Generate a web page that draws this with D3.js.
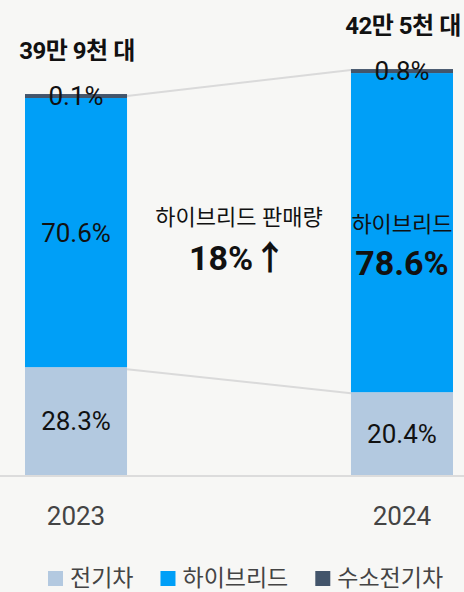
<!DOCTYPE html>
<html>
<head>
<meta charset="utf-8">
<script src="https://cdn.jsdelivr.net/npm/d3@7"></script>
<style>
  html, body { margin: 0; padding: 0; background: #f7f7f5; }
  svg { display: block; font-family: Roboto, 'Noto Sans CJK KR', sans-serif; }
</style>
</head>
<body>
<svg id="chart" width="464" height="592"></svg>
<script>
// 연도
const years = ['2023', '2024'];
// 판매 대수 (천 대)
const totals = [399, 425];
// 상단 판매 대수 라벨
const totalLabels = ['39만 9천 대', '42만 5천 대'];
// 시리즈 이름
const seriesNames = ['전기차', '하이브리드', '수소전기차'];
// 비중 (%)
const evShare = [28.3, 20.4];
const hybridShare = [70.6, 78.6];
const fcevShare = [0.1, 0.8];
// 가운데 설명 문구
const noteLines = ['하이브리드 판매량', '18%↑'];

const colors = ['#b3c9e0', '#009ff7', '#43556b'];
const W = 464, H = 592;
const svg = d3.select('#chart');

// 축 스케일
const x = d3.scaleBand().domain(years).range([25, 453]).paddingInner(0.687);
const y = d3.scaleLinear().domain([0, 425]).range([475, 69]);
// 퍼센트 -> 천 대 값으로 변환
const shares = [evShare, hybridShare, fcevShare];
const rows = years.map((yr, i) => {
    const r = { year: yr };
    seriesNames.forEach((s, k) => r[s] = totals[i] * shares[k][i] / 100);
    return r;
});
const stacked = d3.stack().keys(seriesNames)(rows);

// 작은 값은 최소 높이 보장
const minH = 4;
stacked.forEach((layer, k) => layer.forEach((d, i) => {
    let top = y(d[1]);
    const bottom = k === 0 ? y(0) : stacked[k - 1][i].topPx;
    if (bottom - top < minH) top = bottom - minH;
    d.topPx = top;
    d.bottomPx = bottom;
}));

// 바닥 라인
svg.append('line')
    .attr('x1', 0).attr('x2', W)
    .attr('y1', y(0) + 1).attr('y2', y(0) + 1)
    .attr('stroke', '#dcdcdc').attr('stroke-width', 2);

// 연결선 (전체 상단, 전기차 상단)
const connect = [stacked[2], stacked[0]];
connect.forEach(layer => {
    svg.append('line')
        .attr('x1', x(years[0]) + x.bandwidth()).attr('y1', layer[0].topPx + 2)
        .attr('x2', x(years[1])).attr('y2', layer[1].topPx + 1)
        .attr('stroke', '#dadada').attr('stroke-width', 2);
});

// 막대
svg.append('g').selectAll('g').data(stacked).join('g')
    .attr('fill', (d, k) => colors[k])
    .selectAll('rect').data(d => d).join('rect')
    .attr('x', d => x(d.data.year))
    .attr('width', x.bandwidth())
    .attr('y', d => d.topPx)
    .attr('height', d => d.bottomPx - d.topPx);

const cx = yr => x(yr) + x.bandwidth() / 2;

// 전기차 라벨
svg.append('g').selectAll('text').data(stacked[0]).join('text')
    .attr('x', d => cx(d.data.year))
    .attr('y', d => (d.topPx + d.bottomPx) / 2 + 9)
    .attr('text-anchor', 'middle')
    .attr('font-size', 26).attr('fill', '#111')
    .text((d, i) => evShare[i].toFixed(1) + '%');

// 하이브리드 라벨 (2023)
svg.append('text')
    .attr('x', cx(years[0]))
    .attr('y', (stacked[1][0].topPx + stacked[1][0].bottomPx) / 2 + 9)
    .attr('text-anchor', 'middle')
    .attr('font-size', 26).attr('fill', '#111')
    .text(hybridShare[0].toFixed(1) + '%');

// 하이브리드 라벨 (2024, 강조)
const hb = stacked[1][1];
const hbMid = (hb.topPx + hb.bottomPx) / 2;
svg.append('text')
    .attr('x', cx(years[1])).attr('y', hbMid - 1)
    .attr('text-anchor', 'middle')
    .attr('font-size', 22).attr('fill', '#111')
    .text(seriesNames[1]);
svg.append('text')
    .attr('x', cx(years[1])).attr('y', hbMid + 42)
    .attr('text-anchor', 'middle')
    .attr('font-size', 34).attr('font-weight', 'bold').attr('fill', '#111')
    .text(hybridShare[1].toFixed(1) + '%');

// 수소전기차 라벨
svg.append('g').selectAll('text').data(stacked[2]).join('text')
    .attr('x', d => cx(d.data.year))
    .attr('y', d => d.topPx + 11)
    .attr('text-anchor', 'middle')
    .attr('font-size', 26).attr('fill', '#111')
    .text((d, i) => fcevShare[i].toFixed(1) + '%');

// 상단 판매 대수
svg.append('g').selectAll('text').data(stacked[2]).join('text')
    .attr('x', d => cx(d.data.year) + 1)
    .attr('y', d => d.topPx - 35)
    .attr('text-anchor', 'middle')
    .attr('font-size', 24).attr('font-weight', 'bold')
    .attr('letter-spacing', -0.5).attr('fill', '#111')
    .text((d, i) => totalLabels[i]);

// 가운데 설명
const midX = (x(years[0]) + x.bandwidth() + x(years[1])) / 2;
svg.append('text')
    .attr('x', midX).attr('y', 225)
    .attr('text-anchor', 'middle')
    .attr('font-size', 22).attr('fill', '#111')
    .text(noteLines[0]);
svg.append('text')
    .attr('x', midX - 1).attr('y', 270)
    .attr('text-anchor', 'middle')
    .attr('font-size', 34).attr('font-weight', 'bold').attr('fill', '#111')
    .text(noteLines[1]);

// x축 연도
svg.append('g').selectAll('text').data(years).join('text')
    .attr('x', d => cx(d))
    .attr('y', 525)
    .attr('text-anchor', 'middle')
    .attr('font-size', 26).attr('fill', '#444')
    .text(d => d);

// 범례
const legend = svg.append('g').attr('transform', 'translate(48,571)');
let lx = 0;
seriesNames.forEach((name, k) => {
    const g = legend.append('g').attr('transform', `translate(${lx},0)`);
    g.append('rect').attr('width', 15).attr('height', 15).attr('fill', colors[k]);
    const t = g.append('text')
        .attr('x', 22).attr('y', 15)
        .attr('font-size', 23).attr('fill', '#444')
        .text(name);
    lx += 22 + t.node().getComputedTextLength() + 27;
});
</script>
</body>
</html>
